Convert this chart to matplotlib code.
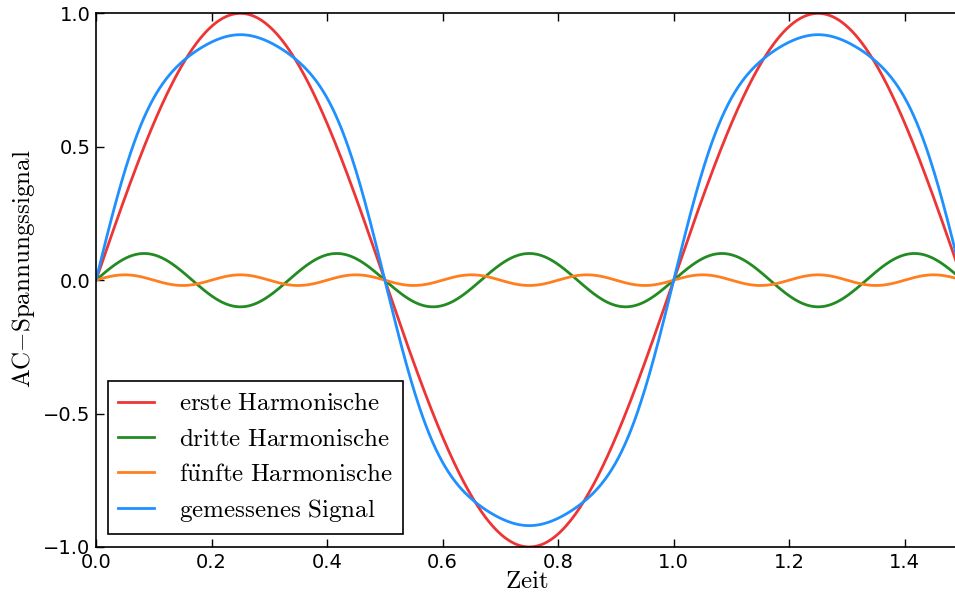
import numpy as np
import matplotlib
matplotlib.use("Agg")
import matplotlib.pyplot as plt

# Harmonische: Ordnung, Amplitude, Farbe, Beschriftung
ordnungen = [1, 3, 5]
amplituden = [1.0, 0.1, 0.02]
farben = ['#EE3535', '#228B22', '#FF7F1E']
namen = [r'$\mathrm{erste\ Harmonische}$',
         r'$\mathrm{dritte\ Harmonische}$',
         r'$\mathrm{f\ddot{u}nfte\ Harmonische}$']
signal_farbe = '#1E90FF'
signal_name = r'$\mathrm{gemessenes\ Signal}$'

frequenz = 1.0      # Grundfrequenz
t_ende = 1.492      # Ende der Zeitachse

plt.rcParams['mathtext.fontset'] = 'cm'
plt.rcParams['font.family'] = 'DejaVu Sans'
plt.rcParams['xtick.direction'] = 'in'
plt.rcParams['ytick.direction'] = 'in'

t = np.linspace(0, t_ende, 800)
fig = plt.figure(figsize=(9.55, 6.01), dpi=100)
ax = fig.add_axes([0.1005, 0.0899, 0.9026, 0.8879])

signal = np.zeros_like(t)
for n, a, c, name in zip(ordnungen, amplituden, farben, namen):
    y = a * np.sin(2 * np.pi * n * frequenz * t)
    signal += y
    ax.plot(t, y, color=c, lw=2, label=name)
ax.plot(t, signal, color=signal_farbe, lw=2, label=signal_name)

ax.set_xlim(0, t_ende)
ax.set_ylim(-1, 1)
ax.set_xticks(np.arange(0, 1.41, 0.2))
ax.set_yticks([-1, -0.5, 0, 0.5, 1])
ax.xaxis.set_major_formatter(matplotlib.ticker.FormatStrFormatter('%.1f'))
ax.yaxis.set_major_formatter(matplotlib.ticker.FuncFormatter(
    lambda v, p: ('%.1f' % v).replace('-', '\u2212')))
# rechte Achse liegt ausserhalb des Bildes
ax.tick_params(labelsize=14, length=6, width=1, top=True, right=False, pad=4)
ax.spines['right'].set_visible(False)
for s in ax.spines.values():
    s.set_linewidth(1.2)

ax.set_xlabel(r'$\mathrm{Zeit}$', fontsize=18, labelpad=-2)
ax.set_ylabel(r'$\mathrm{AC{-}Spannungssignal}$', fontsize=18, labelpad=4)
ax.yaxis.label.set_y(0.522)

leg = ax.legend(loc='lower left', fontsize=18, handlelength=1.45,
                handletextpad=1.0, borderpad=0.4, labelspacing=0.45,
                borderaxespad=0, fancybox=False, framealpha=1,
                edgecolor='black', bbox_to_anchor=(0.014, 0.024))
leg.get_frame().set_linewidth(1.2)

fig.savefig('out.png', dpi=100)
